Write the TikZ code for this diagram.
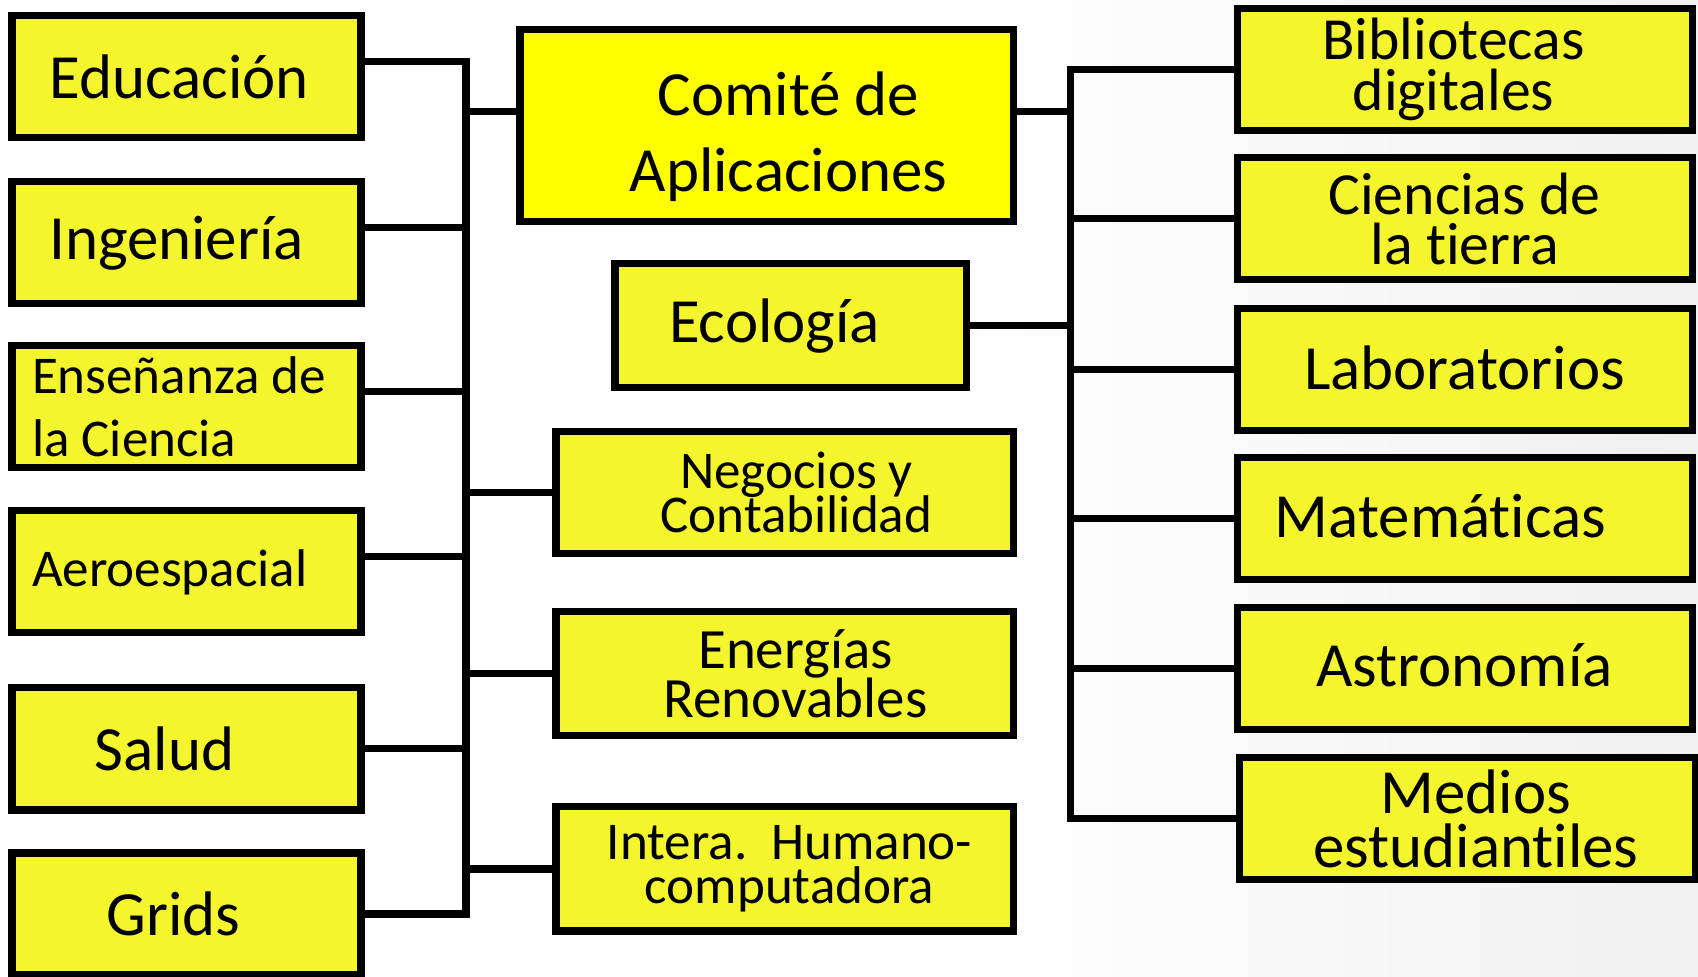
\documentclass[tikz,border=0pt]{standalone}
\usepackage{fontspec}
\setmainfont{Carlito}[Ligatures=NoCommon]
\definecolor{boxyellow}{RGB}{245,245,45}
\definecolor{topyellow}{RGB}{255,255,0}
\lineskiplimit=-\maxdimen
\tikzset{
  area/.style={draw, line width=2pt, fill=boxyellow, inner sep=0pt, align=center,
    minimum height=1.22cm, font=\fontsize{17.9}{21.6}\selectfont},
  leftarea/.style={area, minimum width=3.49cm},
  midarea/.style={area, minimum width=4.57cm},
  rightarea/.style={area, minimum width=4.55cm},
  link/.style={line width=2pt}
}

\begin{document}
\begin{tikzpicture}
  \useasboundingbox (0,0) rectangle (16.98,9.77);
  \fill[left color=white,right color=black!6] (10,0) rectangle (16.98,9.77);

  % Left column
  \node[leftarea] (edu)    at (1.865,9.00) {Educación\hspace*{0.15cm}};
  \node[leftarea] (ing)    at (1.865,7.34) {Ingeniería\hspace*{0.2cm}};
  \node[leftarea,text width=3.09cm,inner xsep=0.2cm,align=flush left,
        font=\fontsize{15.1}{17.9}\selectfont] (ens) at (1.865,5.70) {Enseñanza de\\la Ciencia};
  \node[leftarea,text width=3.09cm,inner xsep=0.2cm,align=flush left,
        font=\fontsize{15.1}{17.9}\selectfont] (aero) at (1.865,4.05) {Aeroespacial};
  \node[leftarea] (salud)  at (1.865,2.28) {Salud\hspace*{0.44cm}};
  \node[leftarea] (grids)  at (1.865,0.63) {Grids\hspace*{0.26cm}};
  \coordinate (ltrunk) at (4.66,4.5);

  % Middle column
  \node[area,fill=topyellow,minimum width=4.93cm,minimum height=1.92cm] (comite) at (7.665,8.51)
        {\rule{0pt}{0.66cm}\hspace*{0.44cm}Comité de\\\hspace*{0.44cm}Aplicaciones};
  \node[area,minimum width=3.51cm,minimum height=1.24cm] (eco) at (7.905,6.51) {Ecología\hspace*{0.32cm}};
  \node[midarea,font=\fontsize{15.1}{12.4}\selectfont] (neg) at (7.845,4.845)
        {\hspace*{0.24cm}Negocios y\\\hspace*{0.24cm}Contabilidad};
  \node[midarea,minimum height=1.24cm,font=\fontsize{16.2}{13.9}\selectfont] (ener) at (7.845,3.03)
        {\hspace*{0.22cm}Energías\\\hspace*{0.22cm}Renovables};
  \node[midarea,minimum height=1.24cm,font=\fontsize{15.1}{12.6}\selectfont] (hci) at (7.845,1.08)
        {\hspace*{0.1cm}Intera.\ \ Humano-\\\hspace*{0.1cm}computadora};
  \coordinate (rtrunk) at (10.70,5);

  % Right column
  \node[rightarea,font=\fontsize{17}{14.5}\selectfont] (biblio) at (14.645,9.075)
        {Bibliotecas\hspace*{0.22cm}\\digitales\hspace*{0.22cm}};
  \node[rightarea,font=\fontsize{17}{14.5}\selectfont] (tierra) at (14.645,7.58) {Ciencias de\\la tierra};
  \node[rightarea] (lab)    at (14.645,6.075) {\raisebox{0.04cm}{Laboratorios}};
  \node[rightarea] (mate)   at (14.645,4.585) {\raisebox{0.05cm}{Matemáticas}\hspace*{0.48cm}};
  \node[rightarea] (astro)  at (14.645,3.08) {\raisebox{0.08cm}{Astronomía}};
  \node[rightarea,minimum width=4.56cm,font=\fontsize{17.9}{15.4}\selectfont] (medios) at (14.67,1.585)
        {\hspace*{0.18cm}Medios\\\hspace*{0.18cm}estudiantiles};

  % Left tree
  \draw[link] ([yshift=1.5mm]edu.east) -| (ltrunk) |- (grids.east);
  \draw[link] ([yshift=1.5mm]ing.east) -- ([yshift=1.5mm]ing.east -| ltrunk);
  \draw[link] ([yshift=1.5mm]ens.east) -- ([yshift=1.5mm]ens.east -| ltrunk);
  \draw[link] ([yshift=1.5mm]aero.east) -- ([yshift=1.5mm]aero.east -| ltrunk);
  \draw[link] (salud.east) -- (salud.east -| ltrunk);
  \draw[link] ([yshift=1.4mm]comite.west -| ltrunk) -- ([yshift=1.4mm]comite.west);
  \draw[link] (neg.west -| ltrunk) -- (neg.west);
  \draw[link] (ener.west -| ltrunk) -- (ener.west);
  \draw[link] (hci.west -| ltrunk) -- (hci.west);

  % Right tree
  \draw[link] (biblio.west) -| (rtrunk) |- (medios.west);
  \draw[link] (tierra.west) -- (tierra.west -| rtrunk);
  \draw[link] (lab.west) -- (lab.west -| rtrunk);
  \draw[link] (mate.west) -- (mate.west -| rtrunk);
  \draw[link] (astro.west) -- (astro.west -| rtrunk);
  \draw[link] ([yshift=1.4mm]comite.east) -- ([yshift=1.4mm]comite.east -| rtrunk);
  \draw[link] (eco.east) -- (eco.east -| rtrunk);
\end{tikzpicture}
\end{document}
